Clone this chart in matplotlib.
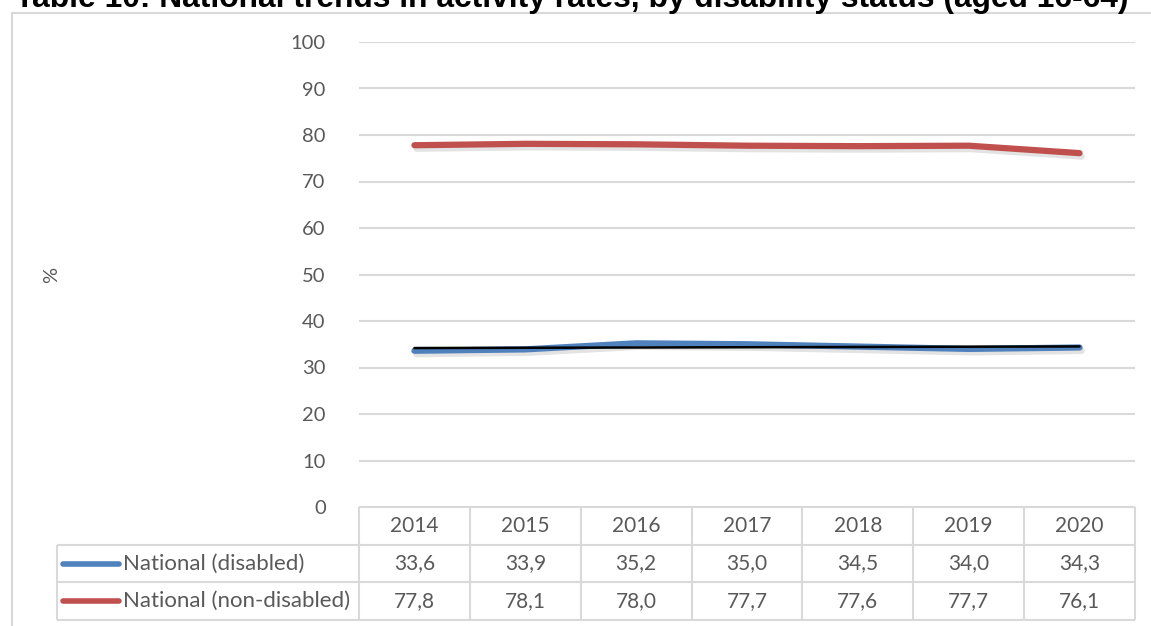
import numpy as np
import matplotlib
matplotlib.use("Agg")
from matplotlib import pyplot as plt
from matplotlib import patheffects as pe
from matplotlib.patches import Rectangle

years = ["2014", "2015", "2016", "2017", "2018", "2019", "2020"]
disabled = [33.6, 33.9, 35.2, 35.0, 34.5, 34.0, 34.3]
non_disabled = [77.8, 78.1, 78.0, 77.7, 77.6, 77.7, 76.1]
series_names = ["National (disabled)", "National (non-disabled)"]
title = "Table 10: National trends in activity rates, by disability status (aged 16-64)"

W, H = 1151, 626
BLUE = "#4F81BD"
RED = "#C0504D"
TEXT = "#595959"
GRID = "#D9D9D9"

plt.rcParams["font.family"] = ["Lato", "DejaVu Sans"]


def fx(px):
    return px / W


def fy(py):
    return 1 - py / H


fig = plt.figure(figsize=(W / 100, H / 100), dpi=100)

# outer chart frame
fig.patches.append(Rectangle((fx(12), fy(640)), fx(1160) - fx(12), fy(13) - fy(640),
                             transform=fig.transFigure, fill=False,
                             edgecolor=GRID, linewidth=1.5))

# title sits partly above the top edge, as in the source
fig.text(fx(572), fy(7), title, ha="center", va="baseline",
         fontsize=22.9, fontweight="bold", family="Liberation Sans", color="black")

# plot area
left, right, top, bottom = 359, 1135, 42, 507
ax = fig.add_axes([fx(left), fy(bottom), fx(right) - fx(left), fy(top) - fy(bottom)])
x = np.arange(len(years))
shadow = [pe.SimpleLineShadow(offset=(1.5, -2.5), shadow_color="gray", alpha=0.22), pe.Normal()]
ax.plot(x, non_disabled, color=RED, lw=4.5, solid_capstyle="round", path_effects=shadow, zorder=3)
ax.plot(x, disabled, color=BLUE, lw=4.5, solid_capstyle="round", path_effects=shadow, zorder=3)

# linear trendline for the disabled series
k, b = np.polyfit(x, disabled, 1)
ax.plot(x, k * x + b, color="black", lw=1.8, solid_capstyle="round", zorder=4)

ax.set_xlim(-0.5, len(years) - 0.5)
ax.set_ylim(0, 100)
ax.set_yticks(range(0, 101, 10))
ax.set_xticks([])
ax.tick_params(axis="y", length=0, pad=24, labelsize=14.5, labelcolor=TEXT)
ax.grid(axis="y", color=GRID, lw=1.5)
ax.set_axisbelow(True)
for s in ax.spines.values():
    s.set_visible(False)
ax.set_ylabel("%", fontsize=14.5, color=TEXT, labelpad=0)
ax.yaxis.set_label_coords((60 - left) / (right - left), 0.5 - (275 - (top + bottom) / 2) / (bottom - top))

# data table under the plot
tleft, tbottom = 57, 620
colw = (right - left) / len(years)
tab = fig.add_axes([fx(tleft), fy(tbottom), fx(right) - fx(tleft), fy(bottom) - fy(tbottom)])
x0 = -0.5 - (left - tleft) / colw
tab.set_xlim(x0, len(years) - 0.5)
tab.set_ylim(3, 0)
tab.axis("off")

lc = dict(color=GRID, lw=1.5, clip_on=False)
tab.hlines(0, -0.5, len(years) - 0.5, **lc)
for r in (1, 2, 3):
    tab.hlines(r, x0, len(years) - 0.5, **lc)
tab.vlines(np.arange(len(years) + 1) - 0.5, 0, 3, **lc)
tab.vlines(x0, 1, 3, **lc)

for i, yr in enumerate(years):
    tab.text(i, 0.5, yr, ha="center", va="center", fontsize=15, color=TEXT)

rows = [disabled, non_disabled]
colors = [BLUE, RED]
for r, (name, vals, c) in enumerate(zip(series_names, rows, colors)):
    yc = r + 1.5
    tab.plot([x0 + 6 / colw, x0 + 62 / colw], [yc, yc], color=c, lw=4, solid_capstyle="round")
    tab.text(x0 + 66 / colw, yc, name, ha="left", va="center", fontsize=16, color=TEXT)
    for i, v in enumerate(vals):
        tab.text(i, yc, f"{v:.1f}".replace(".", ","), ha="center", va="center",
                 fontsize=15, color=TEXT)

fig.savefig("out.png", dpi=100)
